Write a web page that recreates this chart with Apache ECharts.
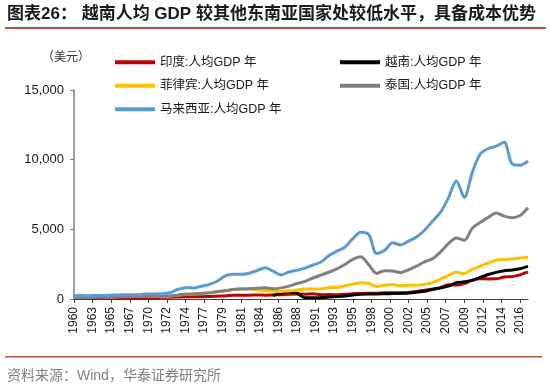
<!DOCTYPE html>
<html>
<head>
<meta charset="utf-8">
<script src="https://cdn.jsdelivr.net/npm/echarts@6/dist/echarts.min.js"></script>
<style>html,body{margin:0;padding:0;background:#fff}#c{width:550px;height:389px}</style>
</head>
<body>
<div id="c"></div>
<script>
const years = [];
for (let y = 1960; y <= 2017; y++) years.push(y);

const tickLabels = ['1960','1963','1965','1967','1970','1972','1974','1977','1979','1981','1984','1986','1988','1991','1993','1995','1998','2000','2002','2005','2007','2009','2012','2014','2016'];
const yTicks = [0, 5000, 10000, 15000];

const seriesNames = ['印度:人均GDP 年','越南:人均GDP 年','菲律宾:人均GDP 年','泰国:人均GDP 年','马来西亚:人均GDP 年'];

const india = [82,85,89,101,116,119,90,96,99,107,112,118,122,143,163,158,161,186,206,224,267,271,275,292,277,296,310,340,354,346,368,303,317,301,346,374,400,415,413,442,443,452,471,546,627,714,806,1028,999,1102,1358,1458,1444,1450,1574,1606,1733,1940];
const vietnam = [null,null,null,null,null,null,null,null,null,null,null,null,null,null,null,null,null,null,null,null,null,null,null,null,null,240,420,520,400,95,98,100,140,185,223,288,337,361,361,375,390,405,430,482,547,684,797,919,1165,1232,1334,1543,1755,1908,2030,2085,2172,2340];
const philippines = [255,265,175,189,193,199,208,180,189,203,188,197,213,260,346,368,410,457,515,607,685,729,741,643,591,569,540,582,649,720,715,716,817,820,944,1062,1160,1127,896,987,1039,947,982,982,1051,1177,1418,1683,1919,1826,2129,2358,2582,2788,2844,2878,2941,2982];
const thailand = [101,107,115,120,129,140,162,169,178,192,197,199,218,275,340,352,396,448,527,595,683,718,729,780,800,734,798,926,1109,1268,1508,1714,1921,2164,2471,2846,3036,2467,1833,2033,2008,1891,2096,2359,2660,2894,3369,3974,4385,4213,5076,5492,5861,6168,5952,5840,5994,6550];
const malaysia = [235,229,237,253,264,285,297,302,306,353,358,375,446,678,812,788,917,1053,1289,1654,1775,1769,1852,2048,2235,2000,1728,1946,2058,2216,2441,2653,3114,3433,3717,4330,4799,4638,3264,3494,4044,3881,4148,4448,4933,5577,6213,7242,8474,7292,9071,10405,10795,10970,11250,9700,9600,9900];

const colors = ['#c00000','#000000','#ffc000','#808080','#5b9bd5'];
const values = [india, vietnam, philippines, thailand, malaysia];

const STEP = 7/3;
const FONT = 'Liberation Sans, Arial, "Noto Sans CJK SC", sans-serif';

const chart = echarts.init(document.getElementById('c'), null, {renderer:'canvas'});
chart.setOption({
  backgroundColor:'#fff',
  animation:false,
  textStyle:{fontFamily:FONT},
  graphic:[
    {type:'text', left:7, top:6, style:{text:'图表26： 越南人均 GDP 较其他东南亚国家处较低水平，具备成本优势', font:'bold 17px '+FONT, fill:'#1a1a1a'}},
    {type:'rect', shape:{x:5, y:27, width:541, height:2}, style:{fill:'#b4563f'}},
    {type:'text', left:42, top:52, style:{text:'（美元）', font:'12px '+FONT, fill:'#333'}},
    {type:'rect', shape:{x:5, y:356, width:537, height:1.5}, style:{fill:'#b4563f'}},
    {type:'text', left:7, top:369, style:{text:'资料来源：Wind，华泰证券研究所', font:'14px '+FONT, fill:'#808080'}}
  ],
  legend:[
    {orient:'vertical', left:110, top:51, itemWidth:40, itemHeight:4, itemGap:11, icon:'rect',
     data:[seriesNames[0], seriesNames[2], seriesNames[4]], textStyle:{fontSize:12.5, color:'#1a1a1a', fontFamily:FONT}},
    {orient:'vertical', left:335, top:51, itemWidth:40, itemHeight:4, itemGap:11, icon:'rect',
     data:[seriesNames[1], seriesNames[3]], textStyle:{fontSize:12.5, color:'#1a1a1a', fontFamily:FONT}}
  ],
  grid:{left:74, right:22, top:90, bottom:90, containLabel:false},
  xAxis:{
    type:'value', min:1960, max:2017, interval:STEP,
    axisLine:{lineStyle:{color:'#404040', width:1.2}},
    axisTick:{show:true, length:4, lineStyle:{color:'#404040'}},
    splitLine:{show:false},
    axisLabel:{rotate:90, fontSize:12, color:'#1a1a1a', margin:8, showMaxLabel:false,
      formatter:function(v){ const i = Math.round((v-1960)/STEP); const d = Math.abs(v-(1960+i*STEP)); return (d<0.01 && tickLabels[i]) ? tickLabels[i] : ''; }}
  },
  yAxis:{
    type:'value', min:yTicks[0], max:yTicks[yTicks.length-1], interval:5000,
    axisLine:{show:true, lineStyle:{color:'#7f7f7f', width:1.5}},
    axisTick:{show:true, length:4, lineStyle:{color:'#7f7f7f'}},
    splitLine:{show:false},
    axisLabel:{fontSize:13, color:'#1a1a1a', margin:10, formatter:function(v){ return v.toLocaleString('en-US'); }}
  },
  series: values.map(function(arr, k){
    return {
      name:seriesNames[k], type:'line', smooth:0.3, symbol:'none', connectNulls:false,
      lineStyle:{width:3, color:colors[k]}, itemStyle:{color:colors[k]},
      data: years.map(function(y, i){ return [y, arr[i]]; })
    };
  })
});
</script>
</body>
</html>
